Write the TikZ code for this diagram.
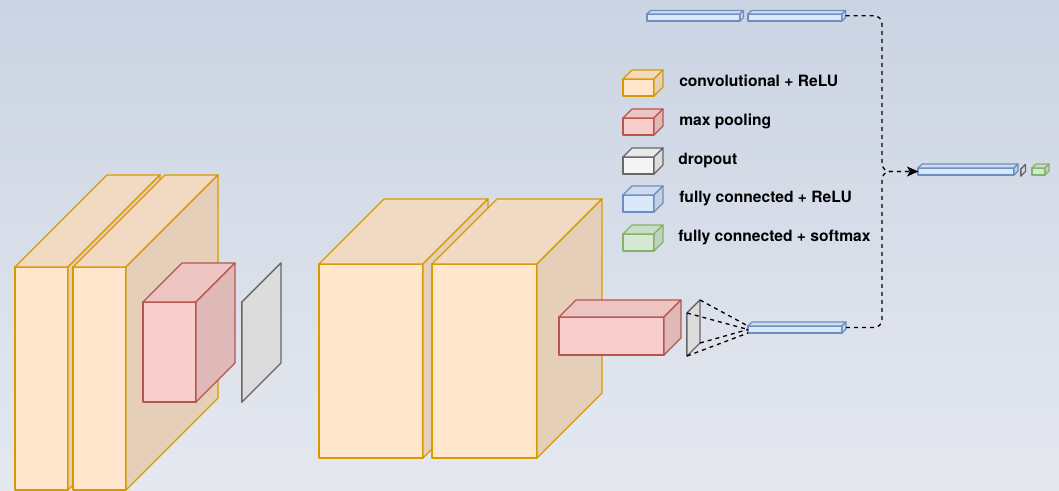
\documentclass[tikz,border=0pt]{standalone}
\usepackage{fontspec}
\setmainfont{TeX Gyre Heros}
\usetikzlibrary{calc,arrows.meta}
\definecolor{convfill}{HTML}{FFE6CC}
\definecolor{convdraw}{HTML}{D79B00}
\definecolor{poolfill}{HTML}{F8CECC}
\definecolor{pooldraw}{HTML}{B85450}
\definecolor{dropfill}{HTML}{F5F5F5}
\definecolor{dropdraw}{HTML}{666666}
\definecolor{fcfill}{HTML}{DAE8FC}
\definecolor{fcdraw}{HTML}{6C8EBF}
\definecolor{smfill}{HTML}{D5E8D4}
\definecolor{smdraw}{HTML}{82B366}
\definecolor{bgtop}{HTML}{CBD4E3}
\definecolor{bgbot}{HTML}{E5E8EF}
\tikzset{
  face/.style={line width=0.9pt, line join=round, inner sep=0pt, outer sep=0pt, rectangle},
  conn/.style={black, line width=1pt, dash pattern=on 3pt off 3pt},
  tip/.style={-{Stealth[length=8pt,width=7pt,inset=2pt]}},
  legend/.style={anchor=base west, inner sep=0pt, font=\fontsize{11.7pt}{14pt}\selectfont\bfseries},
}
% name, x, y (front top-left), width, height, depth, fill, draw
\newcommand{\cuboid}[8]{%
  \node[face, fill=#7, draw=#8, minimum width={#4*0.75pt}, minimum height={#5*0.75pt}, anchor=north west] (#1) at (#2,#3) {};
  \filldraw[face, fill=#7!95!black, draw=#8] (#1.north west) -- ++(#6,-#6) -- ++(#4,0) -- (#1.north east) -- cycle;
  \filldraw[face, fill=#7!90!black, draw=#8] (#1.north east) -- ++(#6,-#6) -- ++(0,#5) -- (#1.south east) -- cycle;
  \coordinate (#1-bt) at ($(#1.north east)+(#6,-#6)$);
  \coordinate (#1-bb) at ($(#1.south east)+(#6,-#6)$);
  \coordinate (#1-out) at ($(#1.east)+(#6,-#6/2)$);
}
\begin{document}
\begin{tikzpicture}[x=0.75pt,y=-0.75pt]
\useasboundingbox (0,0) rectangle (1059,490);
\clip (0,0) rectangle (1059,490);
\shade[top color=bgtop, bottom color=bgbot] (0,0) rectangle (1059,490);

% first convolutional stage
\cuboid{convA}{15}{267}{53}{223}{92}{convfill}{convdraw}
\cuboid{convB}{73}{267}{53}{223}{92}{convfill}{convdraw}
\cuboid{poolA}{143}{302}{53}{100}{39}{poolfill}{pooldraw}
\cuboid{dropA}{242}{302}{0}{100}{39}{dropfill}{dropdraw}

% second convolutional stage
\cuboid{convC}{319}{264}{104}{194}{65}{convfill}{convdraw}
\cuboid{convD}{432}{264}{105}{194}{65}{convfill}{convdraw}
\cuboid{poolB}{559}{317}{105}{38}{17}{poolfill}{pooldraw}
\cuboid{dropB}{687}{313}{0}{43}{13}{dropfill}{dropdraw}

% fully connected
\cuboid{fcA}{748}{326}{94}{7}{4}{fcfill}{fcdraw}
\cuboid{fcT}{647}{14}{93}{7}{3.5}{fcfill}{fcdraw}
\cuboid{fcU}{748}{14}{94}{7}{3.5}{fcfill}{fcdraw}
\cuboid{fcB}{918}{168}{96}{7}{4}{fcfill}{fcdraw}
\cuboid{dropC}{1021}{169}{0}{7}{4.5}{dropfill}{dropdraw}
\cuboid{soft}{1032}{168}{13}{7}{4}{smfill}{smdraw}

% flatten lines
\draw[conn] (dropB-bt) -- (fcA.north west);
\draw[conn] (dropB.north west) -- (fcA.west);
\draw[conn] (dropB-bb) -- (fcA.west);
\draw[conn] (dropB.south west) -- (fcA.south west);

% merge connectors
\coordinate (j) at (882,171.5);
\draw[conn, rounded corners=6pt, tip] (fcU-out) -| (j) -- (fcB.west);
\draw[conn, rounded corners=6pt, tip] (fcA-out) -| (j) -- (fcB.west);

% legend
\cuboid{lgA}{623}{79}{31}{17}{9}{convfill}{convdraw}
\cuboid{lgB}{623}{118}{31}{17}{9}{poolfill}{pooldraw}
\cuboid{lgC}{623}{157}{31}{17}{9}{dropfill}{dropdraw}
\cuboid{lgD}{623}{195}{31}{17}{9}{fcfill}{fcdraw}
\cuboid{lgE}{623}{234}{31}{17}{9}{smfill}{smdraw}
\node[legend] (tA) at (679,86.5) {convolutional + ReLU};
\node[legend] (tB) at (679,125.5) {max pooling};
\node[legend] (tC) at (678,164.5) {dropout};
\node[legend] (tD) at (679,202.5) {fully connected + ReLU};
\node[legend] (tE) at (678,241.5) {fully connected + softmax};
\end{tikzpicture}
\end{document}
